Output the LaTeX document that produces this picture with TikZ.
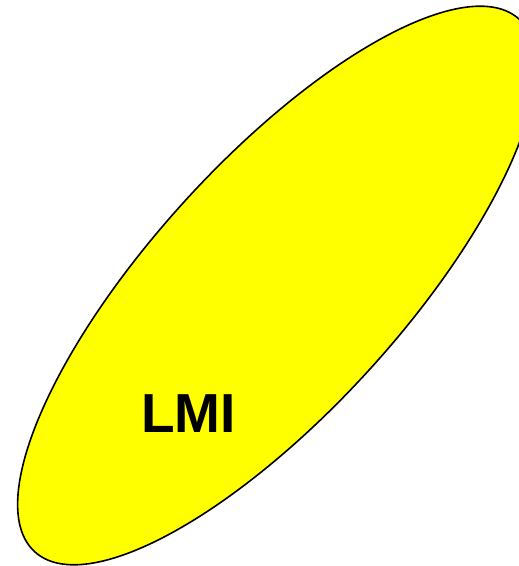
\documentclass[tikz,border=0pt]{standalone}
\usepackage{fontspec}
\setmainfont{Liberation Sans}
\definecolor{lmiyellow}{RGB}{255,255,0}
\begin{document}
\begin{tikzpicture}[x=1pt,y=1pt,
  blob/.style={draw=black,line width=1.6pt,fill=lmiyellow},
  lbl/.style={font=\fontsize{55}{60}\selectfont\bfseries,inner sep=0pt,anchor=base}]
\useasboundingbox (0,0) rectangle (519,566);
\begin{scope}
\clip (0,0) rectangle (519,566);
\draw[blob,rotate around={47.7:(277,280.5)}] (277,280.5) ellipse [x radius=360, y radius=125];
\end{scope}
\node[lbl] (lmi) at (188.5,133) {LMI};
\end{tikzpicture}
\end{document}
